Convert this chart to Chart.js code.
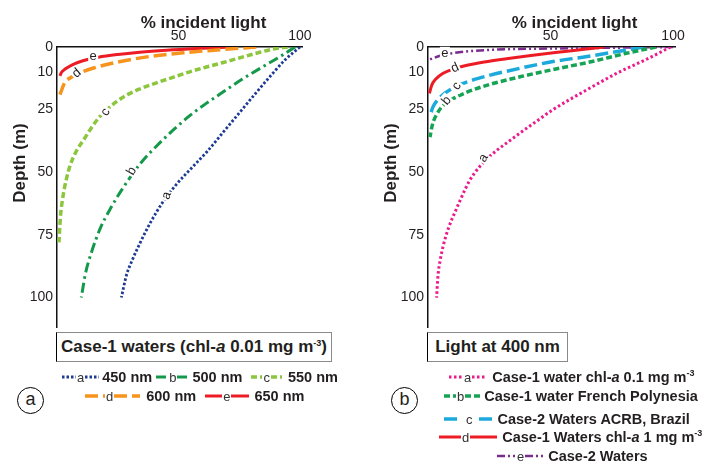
<!DOCTYPE html>
<html>
<head>
<meta charset="utf-8">
<script src="https://cdn.jsdelivr.net/npm/chart.js@4.4.0/dist/chart.umd.min.js"></script>
<style>
  body { margin: 0; background: #fff; font-family: "Liberation Sans", Arial, sans-serif; color: #231f20; }
  #page { position: relative; width: 708px; height: 462px; overflow: hidden; }
  .plot { position: absolute; top: 0; width: 354px; height: 340px; }
  .box { position: absolute; top: 332px; height: 30px; box-sizing: border-box; border: 1.5px solid #8a8a8a; border-left-color: #000;
         font-weight: bold; font-size: 17px; line-height: 27px; text-align: center; background: #fff; white-space: nowrap; }
  .row { position: absolute; display: flex; align-items: center; height: 18px; font-size: 14.5px; font-weight: bold; white-space: nowrap; }
  .smp { display: inline-flex; align-items: center; font-weight: normal; font-size: 13px; color: #333; }
  .smp span { margin: 0 1px; }
  .circ { position: absolute; width: 27px; height: 27px; border: 1.5px solid #000; border-radius: 50%; box-sizing: border-box;
          text-align: center; font-size: 18px; line-height: 23px; }
  sup { font-size: 9px; vertical-align: 6px; line-height: 0; }
</style>
</head>
<body>
<div id="page">
  <div class="plot" style="left:0"><canvas id="chartA"></canvas></div>
  <div class="plot" style="left:354px"><canvas id="chartB"></canvas></div>

  <div class="box" style="left:56px; width:276px">Case-1 waters (chl-<i>a</i> 0.01 mg m<sup>-3</sup>)</div>
  <div class="box" style="left:427px; width:141px">Light at 400 nm</div>

  <div class="circ" style="left:17px; top:387px">a</div>
  <div class="circ" style="left:391px; top:387px">b</div>

  <div id="legendA"></div>
  <div id="legendB"></div>
</div>

<script>
const lightTicks = [50, 100];
const depthTicks = [0, 10, 25, 50, 75, 100];

// (a) Case-1 waters, chl-a 0.01 mg m-3, by wavelength
const light450 = [100, 94, 89, 82, 75.3, 68.4, 61.8, 55.5, 49, 43.5, 38.5, 34.3, 31, 28.6, 26.5];
const depth450 = [0, 5, 10.3, 18.2, 26, 34, 41.7, 48.2, 55, 62, 70, 78, 85, 91, 100];
const light500 = [98, 91.5, 84.5, 76, 68, 61, 54.5, 48, 41.3, 34.5, 27, 22, 17.8, 14.3, 11.7, 10];
const depth500 = [0, 4, 8, 13, 18.2, 22.8, 27.5, 33, 39.2, 46.3, 56.5, 64.5, 72.4, 81.6, 90.5, 100];
const light550 = [95, 89, 82, 75, 68, 61.5, 55, 48, 41, 34.5, 29, 24.5, 20.5, 17, 14, 11, 8, 5.5, 3.8, 2.4, 1.4, 0.8];
const depth550 = [0, 0.8, 2.5, 4.4, 6.3, 8, 9.8, 12, 14.3, 16.6, 19, 21.8, 25, 28.5, 32.5, 37, 41.5, 47, 53, 60, 68, 78];
const light600 = [82, 67, 52, 38, 25, 15, 9, 5.5, 3.3, 1.2];
const depth600 = [0, 1.1, 2.3, 3.8, 6, 8.4, 10.5, 12.3, 14, 19];
const light650 = [72, 58, 45, 34, 25, 17, 11, 6.5, 3.5, 1.8, 1.2];
const depth650 = [0, 0.6, 1.3, 2.1, 3, 4.1, 5.4, 7, 8.7, 10.2, 11.5];

// (b) light at 400 nm
const lightChl01 = [99, 89, 78, 65, 51, 44.5, 38, 32.5, 28, 24.5, 21.5, 19, 17, 15.3, 13.2, 11.2, 8.3, 6.3, 5, 4.1, 3.5];
const depthChl01 = [0, 5, 10, 17, 25, 29.5, 34, 38, 41.3, 44.3, 47.3, 50.3, 53.3, 56.5, 61, 65.5, 72.4, 79, 85, 91, 100];
const lightPolynesia = [93, 81, 66, 51, 38, 25, 15.5, 10, 6, 3.5, 1.8, 0.8];
const depthPolynesia = [0, 2.5, 6, 9, 11.8, 15, 18.2, 20.8, 23.5, 27, 31, 36];
const lightAcrb = [88, 65, 51, 38, 24, 17, 10, 5, 2, 0.8];
const depthAcrb = [0, 3.8, 5.8, 8.4, 11.6, 13.6, 16.5, 20, 24, 27.5];
const lightChl1 = [72, 62, 52, 42, 32, 23, 15.5, 10, 6, 3.2, 1.5, 0.6];
const depthChl1 = [0, 1.1, 2.2, 3.4, 4.7, 6, 7.4, 8.9, 10.6, 12.8, 15.3, 18.5];
const lightCase2 = [100, 75, 51, 24, 10, 4, 0.5];
const depthCase2 = [0, 0.3, 0.6, 1.2, 2.5, 3.8, 5.1];

const namesA = ['450 nm', '500 nm', '550 nm', '600 nm', '650 nm'];
const namesB = ['Case-1 water chl-<i>a</i> 0.1 mg m<sup>-3</sup>', 'Case-1 water French Polynesia',
                'Case-2 Waters ACRB, Brazil', 'Case-1 Waters chl-<i>a</i> 1 mg m<sup>-3</sup>', 'Case-2 Waters'];

// letters written on the curves (data coords)
const curveLettersA = [
  { t: 'e', x: 14.9, y: 3.8, rot: 0 },
  { t: 'd', x: 8.1, y: 10.5, rot: -40 },
  { t: 'c', x: 20, y: 26, rot: -60 },
  { t: 'b', x: 30.7, y: 49.5, rot: -60 },
  { t: 'a', x: 45.1, y: 59.3, rot: -70 }
];
const curveLettersB = [
  { t: 'e', x: 6.9, y: 2.7, rot: 0 },
  { t: 'd', x: 11, y: 8.4, rot: -25 },
  { t: 'c', x: 11.7, y: 15.6, rot: -55 },
  { t: 'b', x: 7.6, y: 21.4, rot: -50 },
  { t: 'a', x: 22.6, y: 44.3, rot: -60 }
];

const FONT = '"Liberation Sans", Arial, sans-serif';
const DOT = [2.5, 2], DASHDOT = [10, 4, 2.5, 4], SHORT = [6, 3], LONG = [13, 5], SOLID = [], DASHDOTDOT = [8, 3, 2, 3, 2, 3];

const seriesA = [
  { light: light450, depth: depth450, color: '#1d3a94', dash: DOT, width: 2.8 },
  { light: light500, depth: depth500, color: '#14994a', dash: DASHDOT, width: 3 },
  { light: light550, depth: depth550, color: '#8cc63f', dash: SHORT, width: 3.5 },
  { light: light600, depth: depth600, color: '#f7941d', dash: LONG, width: 3.5 },
  { light: light650, depth: depth650, color: '#ed1c24', dash: SOLID, width: 3 }
];
const seriesB = [
  { light: lightChl01, depth: depthChl01, color: '#ec1a8d', dash: [2.5, 2.5], width: 3 },
  { light: lightPolynesia, depth: depthPolynesia, color: '#17a354', dash: SHORT, width: 3.5 },
  { light: lightAcrb, depth: depthAcrb, color: '#1ca9dc', dash: LONG, width: 3.5 },
  { light: lightChl1, depth: depthChl1, color: '#ed1c24', dash: SOLID, width: 3 },
  { light: lightCase2, depth: depthCase2, color: '#7b2c8f', dash: DASHDOTDOT, width: 2.5 }
];

function panelText(letters) {
  return {
    id: 'panelText',
    afterDraw(chart) {
      const ctx = chart.ctx, a = chart.chartArea;
      const xs = chart.scales.x, ys = chart.scales.y;
      ctx.save();
      ctx.fillStyle = '#231f20';
      ctx.textAlign = 'center';
      ctx.textBaseline = 'middle';
      ctx.font = 'bold 17px ' + FONT;
      ctx.fillText('% incident light', a.left + 146.5, 23);
      ctx.save();
      ctx.translate(a.left - 37, 163);
      ctx.rotate(-Math.PI / 2);
      ctx.fillText('Depth (m)', 0, 0);
      ctx.restore();
      ctx.font = '13px ' + FONT;
      letters.forEach(l => {
        ctx.save();
        ctx.translate(xs.getPixelForValue(l.x), ys.getPixelForValue(l.y));
        ctx.rotate(l.rot * Math.PI / 180);
        ctx.fillStyle = '#fff';
        ctx.fillRect(-5, -7, 10, 14);
        ctx.fillStyle = '#231f20';
        ctx.fillText(l.t, 0, 0);
        ctx.restore();
      });
      ctx.restore();
    }
  };
}

function makeChart(id, series, letters, axisWidth, padRight) {
  return new Chart(document.getElementById(id), {
    type: 'line',
    data: {
      datasets: series.map(s => ({
        data: s.light.map((v, i) => ({ x: v, y: s.depth[i] })),
        borderColor: s.color,
        borderDash: s.dash,
        borderWidth: s.width,
        borderCapStyle: 'butt',
        pointRadius: 0,
        cubicInterpolationMode: 'monotone',
        fill: false
      }))
    },
    options: {
      responsive: true,
      maintainAspectRatio: false,
      animation: false,
      layout: { padding: { left: 0, top: 0, right: padRight, bottom: 7.4 } },
      plugins: { legend: { display: false }, tooltip: { enabled: false } },
      scales: {
        x: {
          type: 'linear', position: 'top', min: 0, max: 101,
          grid: { display: false, drawTicks: false },
          border: { display: true, color: '#111', width: 1.5 },
          ticks: { color: '#231f20', padding: 2, maxRotation: 0, font: { size: 14, family: FONT } },
          afterBuildTicks: s => { s.ticks = lightTicks.map(v => ({ value: v })); },
          afterFit: s => { s.height = 47; }
        },
        y: {
          type: 'linear', reverse: true, min: 0, max: 112,
          grid: { display: false, drawTicks: false },
          border: { display: true, color: '#111', width: 1.5 },
          ticks: { color: '#231f20', padding: 4, font: { size: 14, family: FONT } },
          afterBuildTicks: s => { s.ticks = depthTicks.map(v => ({ value: v })); },
          afterFit: s => { s.width = axisWidth; }
        }
      }
    },
    plugins: [panelText(letters)]
  });
}

makeChart('chartA', seriesA, curveLettersA, 57, 51.6);
makeChart('chartB', seriesB, curveLettersB, 74, 32.5);

// legend samples
function seg(s, w) {
  const d = s.dash.length ? ' stroke-dasharray="' + s.dash.join(' ') + '"' : '';
  return '<svg width="' + w + '" height="6"><line x1="0" y1="3" x2="' + w + '" y2="3" stroke="' + s.color +
         '" stroke-width="' + s.width + '"' + d + '/></svg>';
}
function sample(s, letter, w1, w2, gap) {
  const m = gap ? ' style="margin:0 ' + gap + 'px"' : '';
  return '<span class="smp">' + seg(s, w1) + '<span' + m + '>' + letter + '</span>' + seg(s, w2) + '</span>';
}
function row(left, cy, html) {
  return '<div class="row" style="left:' + left + 'px; top:' + (cy - 9) + 'px">' + html + '</div>';
}

document.getElementById('legendA').innerHTML =
  row(62, 377,
    sample(seriesA[0], 'a', 14, 14) + '<span style="margin-left:3px">' + namesA[0] + '</span>' +
    '<span style="margin-left:4px"></span>' + sample(seriesA[1], 'b', 12, 12) + '<span style="margin-left:3px">' + namesA[1] + '</span>' +
    '<span style="margin-left:9px"></span>' + sample(seriesA[2], 'c', 11, 11) + '<span style="margin-left:6px">' + namesA[2] + '</span>') +
  row(85, 396,
    sample(seriesA[3], 'd', 20, 26) + '<span style="margin-left:6px">' + namesA[3] + '</span>' +
    '<span style="margin-left:9px"></span>' + sample(seriesA[4], 'e', 17, 18) + '<span style="margin-left:5px">' + namesA[4] + '</span>');

document.getElementById('legendB').innerHTML =
  row(449, 377, sample(seriesB[0], 'a', 14, 14) + '<span style="margin-left:6px">' + namesB[0] + '</span>') +
  row(444, 396, sample(seriesB[1], 'b', 12, 15) + '<span style="margin-left:4px">' + namesB[1] + '</span>') +
  row(444, 419, sample(seriesB[2], 'c', 16, 16, 6) + '<span style="margin-left:3px">' + namesB[2] + '</span>') +
  row(439, 437, sample(seriesB[3], 'd', 22, 27) + '<span style="margin-left:5px">' + namesB[3] + '</span>') +
  row(497, 456, sample(seriesB[4], 'e', 19, 20) + '<span style="margin-left:3px">' + namesB[4] + '</span>');
</script>
</body>
</html>
